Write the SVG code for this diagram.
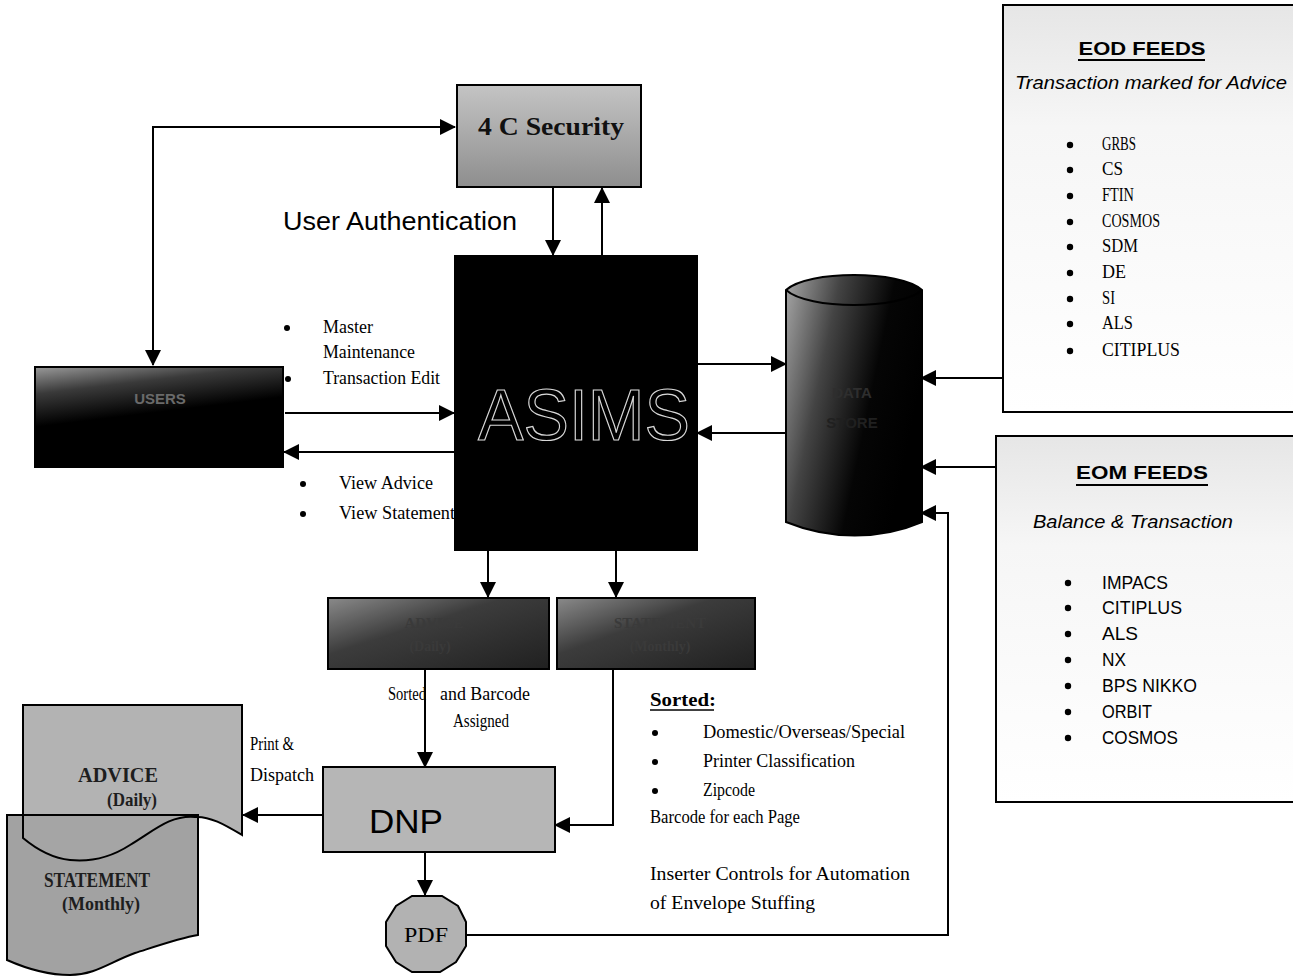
<svg xmlns="http://www.w3.org/2000/svg" width="1293" height="978" viewBox="0 0 1293 978">
<defs>
<marker id="ah" markerUnits="userSpaceOnUse" markerWidth="16" markerHeight="16" refX="15" refY="8" orient="auto-start-reverse"><path d="M0,0 L16,8 L0,16 Z" fill="#000"/></marker>
<linearGradient id="gUsers" x1="0" y1="0" x2="0.3" y2="1"><stop offset="0" stop-color="#9a9a9a"/><stop offset="0.25" stop-color="#3a3a3a"/><stop offset="0.55" stop-color="#000"/><stop offset="1" stop-color="#000"/></linearGradient>
<linearGradient id="gDb" x1="0" y1="0" x2="1" y2="0.4"><stop offset="0" stop-color="#a8a8a8"/><stop offset="0.35" stop-color="#444"/><stop offset="0.7" stop-color="#050505"/><stop offset="1" stop-color="#000"/></linearGradient>
<linearGradient id="gBox" x1="0" y1="0" x2="1" y2="1"><stop offset="0" stop-color="#8a8a8a"/><stop offset="0.4" stop-color="#3c3c3c"/><stop offset="1" stop-color="#202020"/></linearGradient>
<linearGradient id="gSec" x1="0" y1="0" x2="0" y2="1"><stop offset="0" stop-color="#c4c4c4"/><stop offset="1" stop-color="#8e8e8e"/></linearGradient>
<linearGradient id="gFeed" x1="0" y1="0" x2="0" y2="1"><stop offset="0" stop-color="#e6e6e6"/><stop offset="0.3" stop-color="#f6f6f6"/><stop offset="1" stop-color="#fff"/></linearGradient>
</defs>
<style>
.box{stroke:#000;stroke-width:2}
.ln{fill:none;stroke:#000;stroke-width:2}
.serif{font-family:"Liberation Serif","Times New Roman",serif}
.sans{font-family:"Liberation Sans",Arial,sans-serif}
.lbl{font-size:18px;fill:#000}
.dk{fill:#3a3a3a;font-weight:bold}
.doc{font-family:"Liberation Serif","Times New Roman",serif;font-weight:bold;fill:#1e1e1e}
</style>

<g id="connectors">
<path class="ln" d="M153,365 V127 H455" marker-start="url(#ah)" marker-end="url(#ah)"/>
<path class="ln" d="M553,188 V255" marker-end="url(#ah)"/>
<path class="ln" d="M602,256 V188" marker-end="url(#ah)"/>
<path class="ln" d="M285,413 H454" marker-end="url(#ah)"/>
<path class="ln" d="M455,452 H284" marker-end="url(#ah)"/>
<path class="ln" d="M697,364 H786" marker-end="url(#ah)"/>
<path class="ln" d="M786,433 H697" marker-end="url(#ah)"/>
<path class="ln" d="M1003,378 H921" marker-end="url(#ah)"/>
<path class="ln" d="M996,467 H921" marker-end="url(#ah)"/>
<path class="ln" d="M466,935 H948 V513 H921" marker-end="url(#ah)"/>
<path class="ln" d="M488,550 V597" marker-end="url(#ah)"/>
<path class="ln" d="M616,550 V597" marker-end="url(#ah)"/>
<path class="ln" d="M425,670 V767" marker-end="url(#ah)"/>
<path class="ln" d="M613,670 V825 H555" marker-end="url(#ah)"/>
<path class="ln" d="M323,815 H243" marker-end="url(#ah)"/>
<path class="ln" d="M425,852 V895" marker-end="url(#ah)"/>
</g>

<g id="security">
<rect class="box" x="457" y="85" width="184" height="102" fill="url(#gSec)"/>
<text x="551" y="135" text-anchor="middle" class="serif" font-size="25" font-weight="bold" fill="#111" textLength="146" lengthAdjust="spacingAndGlyphs">4 C Security</text>
</g>

<g id="auth-label">
<text x="283" y="230" class="sans" font-size="26" fill="#000" textLength="234" lengthAdjust="spacingAndGlyphs">User Authentication</text>
</g>

<g id="users">
<rect class="box" x="35" y="367" width="248" height="100" fill="url(#gUsers)"/>
<text x="160" y="404" text-anchor="middle" class="sans" font-size="15" font-weight="bold" fill="#6a6a6a">USERS</text>
</g>

<g id="asims">
<rect class="box" x="455" y="256" width="242" height="294" fill="#000"/>
<text x="584" y="440" text-anchor="middle" class="sans" font-size="72" fill="none" stroke="#d8d8d8" stroke-width="1.2" textLength="212" lengthAdjust="spacingAndGlyphs">ASIMS</text>
</g>

<g id="user-actions">
<circle cx="287" cy="328" r="3"/>
<text x="323" y="333" class="serif lbl" textLength="50" lengthAdjust="spacingAndGlyphs">Master</text>
<text x="323" y="358" class="serif lbl" textLength="92" lengthAdjust="spacingAndGlyphs">Maintenance</text>
<circle cx="288" cy="379" r="3"/>
<text x="323" y="384" class="serif lbl" textLength="117" lengthAdjust="spacingAndGlyphs">Transaction Edit</text>
<circle cx="303" cy="484" r="3"/>
<text x="339" y="489" class="serif lbl" textLength="94" lengthAdjust="spacingAndGlyphs">View Advice</text>
<circle cx="303" cy="514" r="3"/>
<text x="339" y="519" class="serif lbl" textLength="116" lengthAdjust="spacingAndGlyphs">View Statement</text>
</g>

<g id="database">
<path class="box" d="M786,290 L786,522 C830,540 880,540 922,522 L922,290 C900,270 808,270 786,290 Z" fill="url(#gDb)"/>
<path d="M786,290 C808,310 900,310 922,290" fill="none" stroke="#000" stroke-width="2"/>
<text x="852" y="398" text-anchor="middle" class="sans" font-size="15" font-weight="bold" fill="#2e2e2e">DATA</text>
<text x="852" y="428" text-anchor="middle" class="sans" font-size="15" font-weight="bold" fill="#202020">STORE</text>
</g>

<g id="eod-feeds">
<rect class="box" x="1003" y="5" width="300" height="407" fill="url(#gFeed)"/>
<text x="1142" y="55" text-anchor="middle" class="sans" font-size="19" font-weight="bold" textLength="127" lengthAdjust="spacingAndGlyphs">EOD FEEDS</text>
<line x1="1078" y1="60" x2="1205" y2="60" stroke="#000" stroke-width="2"/>
<text x="1015" y="89" class="sans" font-size="19" font-style="italic" textLength="272" lengthAdjust="spacingAndGlyphs">Transaction marked for Advice</text>
<g class="serif" font-size="19">
<circle cx="1070" cy="145" r="3.2"/><text x="1102" y="150" textLength="34" lengthAdjust="spacingAndGlyphs">GRBS</text>
<circle cx="1070" cy="170" r="3.2"/><text x="1102" y="175" textLength="21" lengthAdjust="spacingAndGlyphs">CS</text>
<circle cx="1070" cy="196" r="3.2"/><text x="1102" y="201" textLength="32" lengthAdjust="spacingAndGlyphs">FTIN</text>
<circle cx="1070" cy="222" r="3.2"/><text x="1102" y="227" textLength="58" lengthAdjust="spacingAndGlyphs">COSMOS</text>
<circle cx="1070" cy="247" r="3.2"/><text x="1102" y="252" textLength="36" lengthAdjust="spacingAndGlyphs">SDM</text>
<circle cx="1070" cy="273" r="3.2"/><text x="1102" y="278" textLength="24" lengthAdjust="spacingAndGlyphs">DE</text>
<circle cx="1070" cy="299" r="3.2"/><text x="1102" y="304" textLength="13" lengthAdjust="spacingAndGlyphs">SI</text>
<circle cx="1070" cy="324" r="3.2"/><text x="1102" y="329" textLength="31" lengthAdjust="spacingAndGlyphs">ALS</text>
<circle cx="1070" cy="351" r="3.2"/><text x="1102" y="356" textLength="78" lengthAdjust="spacingAndGlyphs">CITIPLUS</text>
</g>
</g>

<g id="eom-feeds">
<rect class="box" x="996" y="436" width="307" height="366" fill="url(#gFeed)"/>
<text x="1142" y="479" text-anchor="middle" class="sans" font-size="19" font-weight="bold" textLength="132" lengthAdjust="spacingAndGlyphs">EOM FEEDS</text>
<line x1="1076" y1="485" x2="1208" y2="485" stroke="#000" stroke-width="2"/>
<text x="1033" y="528" class="sans" font-size="19" font-style="italic" textLength="200" lengthAdjust="spacingAndGlyphs">Balance &amp; Transaction</text>
<g class="sans" font-size="18">
<circle cx="1068" cy="583" r="3.2"/><text x="1102" y="589" textLength="66" lengthAdjust="spacingAndGlyphs">IMPACS</text>
<circle cx="1068" cy="608" r="3.2"/><text x="1102" y="614" textLength="80" lengthAdjust="spacingAndGlyphs">CITIPLUS</text>
<circle cx="1068" cy="634" r="3.2"/><text x="1102" y="640" textLength="36" lengthAdjust="spacingAndGlyphs">ALS</text>
<circle cx="1068" cy="660" r="3.2"/><text x="1102" y="666" textLength="24" lengthAdjust="spacingAndGlyphs">NX</text>
<circle cx="1068" cy="686" r="3.2"/><text x="1102" y="692" textLength="95" lengthAdjust="spacingAndGlyphs">BPS NIKKO</text>
<circle cx="1068" cy="712" r="3.2"/><text x="1102" y="718" textLength="50" lengthAdjust="spacingAndGlyphs">ORBIT</text>
<circle cx="1068" cy="738" r="3.2"/><text x="1102" y="744" textLength="76" lengthAdjust="spacingAndGlyphs">COSMOS</text>
</g>
</g>

<g id="advice-box">
<rect class="box" x="328" y="598" width="221" height="71" fill="url(#gBox)"/>
<text x="434" y="628" text-anchor="middle" class="serif dk" font-size="15">ADVICE</text>
<text x="430" y="651" text-anchor="middle" class="serif dk" font-size="14">(Daily)</text>
</g>

<g id="statement-box">
<rect class="box" x="557" y="598" width="198" height="71" fill="url(#gBox)"/>
<text x="660" y="628" text-anchor="middle" class="serif dk" font-size="15">STATEMENT</text>
<text x="660" y="651" text-anchor="middle" class="serif dk" font-size="14">(Monthly)</text>
</g>

<g id="flow-labels">
<text x="388" y="700" class="serif lbl" textLength="38" lengthAdjust="spacingAndGlyphs">Sorted</text>
<text x="440" y="700" class="serif lbl" textLength="90" lengthAdjust="spacingAndGlyphs">and Barcode</text>
<text x="453" y="727" class="serif lbl" textLength="56" lengthAdjust="spacingAndGlyphs">Assigned</text>
<text x="250" y="750" class="serif lbl" textLength="44" lengthAdjust="spacingAndGlyphs">Print &amp;</text>
<text x="250" y="781" class="serif lbl" textLength="64" lengthAdjust="spacingAndGlyphs">Dispatch</text>
</g>

<g id="sorted-notes" class="serif lbl">
<text x="650" y="706" font-weight="bold" font-size="18" textLength="66" lengthAdjust="spacingAndGlyphs">Sorted:</text>
<line x1="650" y1="710" x2="714" y2="710" stroke="#000" stroke-width="1.5"/>
<circle cx="655" cy="733" r="3"/><text x="703" y="738" textLength="202" lengthAdjust="spacingAndGlyphs">Domestic/Overseas/Special</text>
<circle cx="655" cy="762" r="3"/><text x="703" y="767" textLength="152" lengthAdjust="spacingAndGlyphs">Printer Classification</text>
<circle cx="655" cy="791" r="3"/><text x="703" y="796" textLength="52" lengthAdjust="spacingAndGlyphs">Zipcode</text>
<text x="650" y="823" textLength="150" lengthAdjust="spacingAndGlyphs">Barcode for each Page</text>
<text x="650" y="880" textLength="260" lengthAdjust="spacingAndGlyphs">Inserter Controls for Automation</text>
<text x="650" y="909" textLength="165" lengthAdjust="spacingAndGlyphs">of Envelope Stuffing</text>
</g>

<g id="dnp">
<rect class="box" x="323" y="767" width="232" height="85" fill="#b6b6b6"/>
<text x="406" y="833" text-anchor="middle" class="sans" font-size="34" textLength="74" lengthAdjust="spacingAndGlyphs">DNP</text>
</g>

<g id="pdf">
<path class="box" d="M412,896 L442,896 L458,906 L466,922 L466,946 L456,962 L440,972 L412,972 L396,962 L386,946 L386,922 L396,906 Z" fill="#b2b2b2"/>
<text x="426" y="942" text-anchor="middle" class="serif" font-size="22" textLength="44" lengthAdjust="spacingAndGlyphs">PDF</text>
</g>

<g id="documents">
<path d="M7,815 H198 V935 C180,938 160,945 135,953 C110,962 95,975 70,975 C45,975 25,968 7,960 Z" fill="#a2a2a2"/>
<path d="M23,705 H242 V835 C225,825 210,816 195,817 C170,815 155,830 130,845 C110,858 90,862 70,860 C50,858 35,848 23,838 Z" fill="#a6a6a6" fill-opacity="0.85"/>
<path class="ln" d="M7,815 H198 V935 C180,938 160,945 135,953 C110,962 95,975 70,975 C45,975 25,968 7,960 Z"/>
<path class="ln" d="M23,705 H242 V835 C225,825 210,816 195,817 C170,815 155,830 130,845 C110,858 90,862 70,860 C50,858 35,848 23,838 Z"/>
<text x="118" y="782" text-anchor="middle" class="doc" font-size="20" textLength="80" lengthAdjust="spacingAndGlyphs">ADVICE</text>
<text x="132" y="806" text-anchor="middle" class="doc" font-size="19" textLength="50" lengthAdjust="spacingAndGlyphs">(Daily)</text>
<text x="97" y="887" text-anchor="middle" class="doc" font-size="20" textLength="106" lengthAdjust="spacingAndGlyphs">STATEMENT</text>
<text x="101" y="910" text-anchor="middle" class="doc" font-size="19" textLength="78" lengthAdjust="spacingAndGlyphs">(Monthly)</text>
</g>
</svg>
